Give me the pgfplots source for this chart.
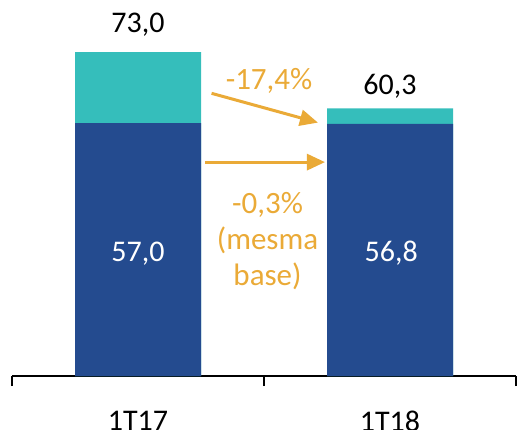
\documentclass[border=0pt]{standalone}
\usepackage{fontspec}
\setmainfont{Carlito}
\usepackage{pgfplots}
\pgfplotsset{compat=1.18}
\usetikzlibrary{arrows.meta}
\definecolor{dblue}{RGB}{36,75,143}
\definecolor{teal2}{RGB}{53,190,187}
\definecolor{orng}{RGB}{234,170,55}
\begin{document}
\begin{tikzpicture}
\useasboundingbox (0,0) rectangle (517bp,430bp);
\begin{axis}[
  at={(12bp,54bp)}, anchor=south west,
  scale only axis, width=504bp, height=355bp,
  xmin=0, xmax=2, ymin=0, ymax=80,
  clip=false,
  ybar, bar width=126bp, bar shift=0pt,
  axis y line=none, axis x line=bottom,
  x axis line style={-, black, line width=1.5bp},
  xtick={0.5,1.5}, xticklabels={1T17,1T18},
  major tick length=0pt,
  extra x ticks={0,1,2}, extra x tick labels={},
  extra x tick style={major tick length=10bp, tick align=outside, tick style={black, line width=1.5bp}},
  xticklabel style={font=\fontsize{30bp}{36bp}\selectfont, inner sep=0pt, text depth=0pt, yshift=-35bp},
]
% totals (teal top segment visible above the base)
\addplot[fill=teal2, draw=none] coordinates {(0.5,73.0) (1.5,60.3)};
% same-base part
\addplot[fill=dblue, draw=none] coordinates {(0.5,57.0) (1.5,56.8)};
\node[anchor=base, text=white, font=\fontsize{30bp}{36bp}\selectfont] at (axis cs:0.5,25.7) {57,0};
\node[anchor=base, text=white, font=\fontsize{30bp}{36bp}\selectfont] at (axis cs:1.505,25.7) {56,8};
\node[anchor=base, font=\fontsize{30bp}{36bp}\selectfont] at (axis cs:0.5,77.3) {73,0};
\node[anchor=base, font=\fontsize{30bp}{36bp}\selectfont] at (axis cs:1.5,63.5) {60,3};
\draw[orng, line width=3bp, -{Triangle[length=18bp,width=16bp]}] (axis cs:0.792,63.7) -- (axis cs:1.214,57.1);
\draw[orng, line width=3bp, -{Triangle[length=18bp,width=16bp]}] (axis cs:0.766,48.2) -- (axis cs:1.242,48.2);
\node[anchor=base, text=orng, font=\fontsize{31bp}{36bp}\selectfont] at (axis cs:1.02,64.6) {-17,4\%};
\node[anchor=base, text=orng, align=center, font=\fontsize{31bp}{36bp}\selectfont] at (axis cs:1.014,20.5) {-0,3\%\\(mesma\\base)};
\end{axis}
\end{tikzpicture}
\end{document}
